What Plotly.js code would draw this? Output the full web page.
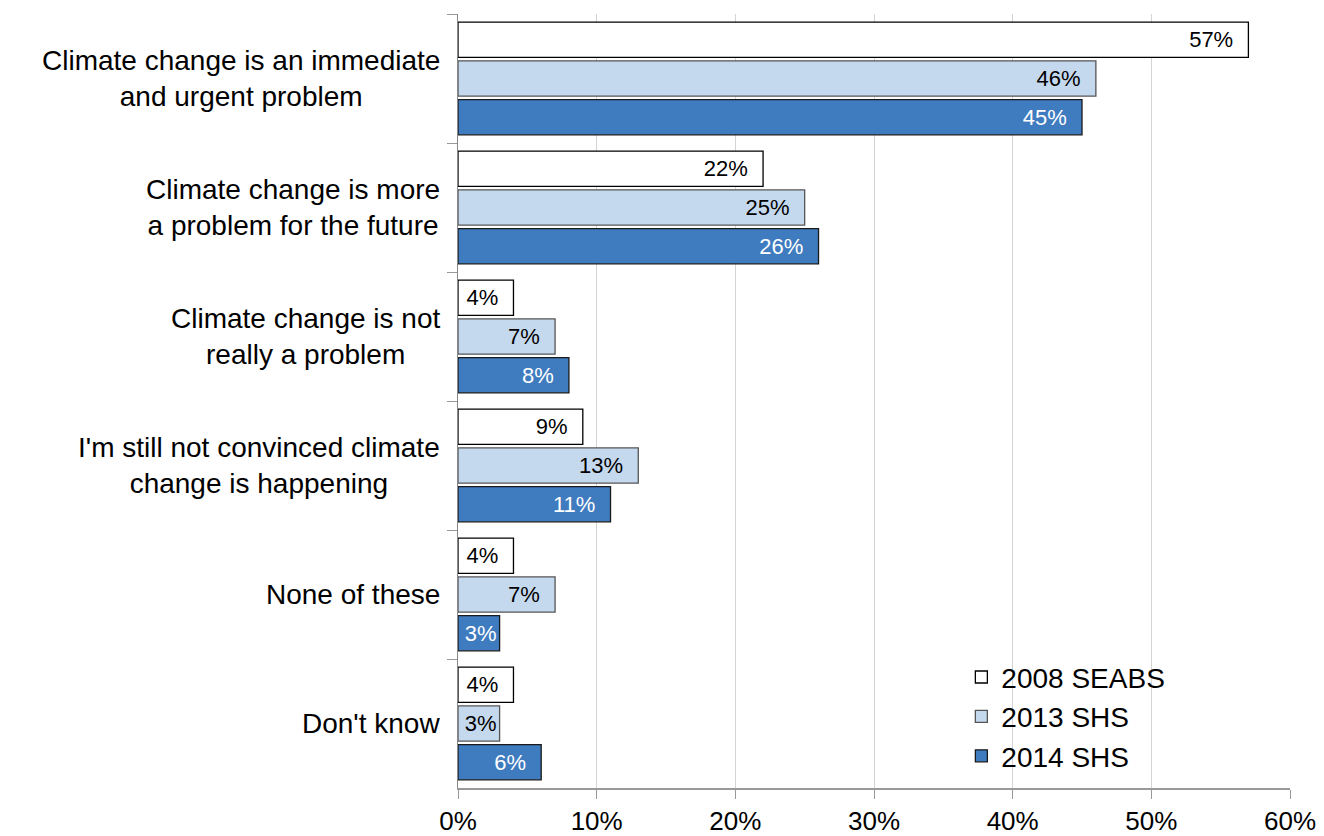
<!DOCTYPE html>
<html>
<head>
<meta charset="utf-8">
<script src="https://cdn.plot.ly/plotly-3.0.1.min.js"></script>
<style>html,body{margin:0;padding:0;background:#fff;}#chart{width:1324px;height:836px;}</style>
</head>
<body>
<div id="chart"></div>
<script>
const categories = [
  "Climate change is an immediate<br>and urgent problem",
  "Climate change is more<br>a problem for the future",
  "Climate change is not<br>really a problem",
  "I'm still not convinced climate<br>change is happening",
  "None of these",
  "Don't know"
];
const seriesNames = ["2008 SEABS", "2013 SHS", "2014 SHS"];
const values2008 = [57, 22, 4, 9, 4, 4];
const values2013 = [46, 25, 7, 13, 7, 3];
const values2014 = [45, 26, 8, 11, 3, 6];
const xTicks = [0, 10, 20, 30, 40, 50, 60];

const fills = ["#ffffff", "#c5d9ee", "#3f7bbf"];
const outlines = ["#000000", "#555555", "#1a1a1a"];
const textColors = ["#000000", "#000000", "#ffffff"];
const allValues = [values2008, values2013, values2014];
const FONT = "Liberation Sans, Arial, sans-serif";

const traces = allValues.map((vals, i) => ({
  type: "bar",
  orientation: "h",
  name: seriesNames[i],
  y: categories,
  x: vals,
  text: vals.map(v => v + "%" + (v > 3 ? "\u00a0\u00a0" : "")),
  textposition: "inside",
  insidetextanchor: "end",
  constraintext: "none",
  cliponaxis: false,
  textfont: {family: FONT, size: 22, color: textColors[i]},
  marker: {color: fills[i], line: {color: outlines[i], width: 1.3}},
  hoverinfo: "skip"
}));

const annotations = categories.map(c => ({
  xref: "paper", yref: "y", x: 0, y: c,
  xanchor: "right", yanchor: "middle", xshift: -16,
  text: c, align: "center", showarrow: false,
  font: {family: FONT, size: 28, color: "#000"}
}));

const layout = {
  width: 1324, height: 836,
  margin: {l: 458, r: 34, t: 14, b: 48},
  paper_bgcolor: "#fff", plot_bgcolor: "#fff",
  barmode: "group", bargap: 0.1, bargroupgap: 0.09,
  showlegend: true,
  legend: {
    x: 0.605, y: 0.092, xanchor: "left", yanchor: "middle",
    font: {family: FONT, size: 28, color: "#000"},
    bgcolor: "rgba(255,255,255,0)", traceorder: "normal",
    tracegroupgap: 0, itemwidth: 30
  },
  xaxis: {
    range: [0, 60], tickvals: xTicks, ticktext: xTicks.map(t => t + "%"),
    showgrid: true, gridcolor: "#d4d4d4", gridwidth: 1,
    zeroline: false, showline: true, linecolor: "#999", linewidth: 1.5,
    ticks: "outside", ticklen: 9, tickcolor: "#999",
    tickfont: {family: FONT, size: 26, color: "#000"},
    fixedrange: true
  },
  yaxis: {
    type: "category", autorange: "reversed",
    showticklabels: false, showgrid: false, zeroline: false,
    showline: true, linecolor: "#888", linewidth: 1.5,
    ticks: "outside", tickson: "boundaries", ticklen: 10, tickcolor: "#999",
    fixedrange: true
  },
  annotations: annotations,
  font: {family: FONT}
};

Plotly.newPlot("chart", traces, layout, {displayModeBar: false, staticPlot: true});
</script>
</body>
</html>
